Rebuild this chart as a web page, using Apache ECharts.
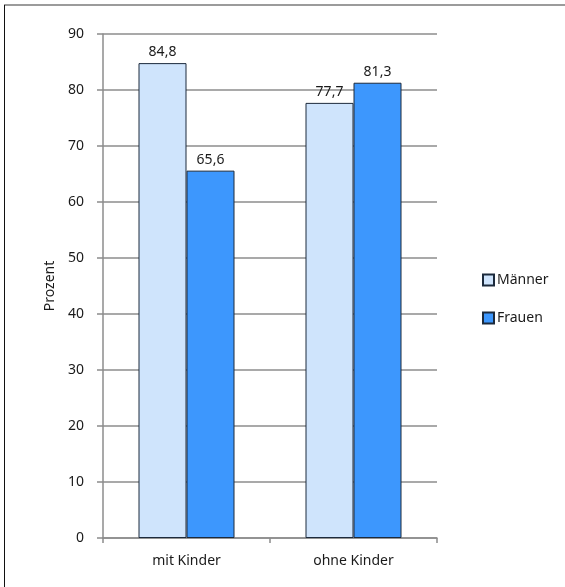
<!DOCTYPE html>
<html><head><meta charset="utf-8">
<script src="https://cdn.jsdelivr.net/npm/echarts@6/dist/echarts.min.js"></script>
<style>html,body{margin:0;padding:0;background:#fff}#c{width:565px;height:587px}</style>
</head><body><div id="c"></div>
<script>
const categories = ['mit Kinder', 'ohne Kinder'];
const maenner = [84.8, 77.7];
const frauen = [65.6, 81.3];
const seriesNames = ['Männer', 'Frauen'];
const yTicks = [0, 10, 20, 30, 40, 50, 60, 70, 80, 90];

const font = '"Noto Sans", "Open Sans", sans-serif';
const txt = '#1a1a1a';
const chart = echarts.init(document.getElementById('c'), null, {renderer: 'canvas'});
const lbl = {show: true, position: 'top', distance: 4, color: txt, fontSize: 14, fontFamily: font,
  formatter: p => String(p.value).replace('.', ',')};
chart.setOption({
  animation: false,
  graphic: [
    {type: 'line', shape: {x1: 4, y1: 5, x2: 565, y2: 5}, style: {stroke: '#7a7a7a', lineWidth: 1.5}},
    {type: 'line', shape: {x1: 4.5, y1: 5, x2: 4.5, y2: 587}, style: {stroke: '#111', lineWidth: 1}}
  ],
  grid: {left: 103, right: 128, top: 34, bottom: 49},
  legend: {
    orient: 'vertical', left: 477, top: 268, itemWidth: 11, itemHeight: 11, itemGap: 24,
    icon: 'rect', textStyle: {fontSize: 14, lineHeight: 14, fontFamily: font, color: txt, padding: [0, 0, 0, -2]},
    data: seriesNames
  },
  xAxis: {
    type: 'category', data: categories,
    axisLine: {lineStyle: {color: '#8c8c8c', width: 1.5}},
    axisTick: {show: true, length: 5, lineStyle: {color: '#8c8c8c', width: 1.5}},
    axisLabel: {color: txt, fontSize: 14, fontFamily: font, margin: 16}
  },
  yAxis: {
    type: 'value', min: yTicks[0], max: yTicks[yTicks.length - 1], interval: 10,
    name: 'Prozent', nameLocation: 'middle', nameGap: 46, nameRotate: 90,
    nameTextStyle: {color: txt, fontSize: 14, fontFamily: font},
    axisLine: {show: true, lineStyle: {color: '#8c8c8c', width: 1.5}},
    axisTick: {show: true, length: 6, lineStyle: {color: '#8c8c8c', width: 1.5}},
    axisLabel: {color: txt, fontSize: 14, fontFamily: font, margin: 19},
    splitLine: {lineStyle: {color: '#8c8c8c', width: 1.5}}
  },
  series: [
    {name: seriesNames[0], type: 'bar', data: maenner, barWidth: 48, barGap: '0%',
     itemStyle: {color: '#cfe4fc', borderColor: '#1c2a3c', borderWidth: 1}, label: lbl},
    {name: seriesNames[1], type: 'bar', data: frauen, barWidth: 48,
     itemStyle: {color: '#3d97fd', borderColor: '#1c2a3c', borderWidth: 1}, label: lbl}
  ]
});
</script></body></html>
